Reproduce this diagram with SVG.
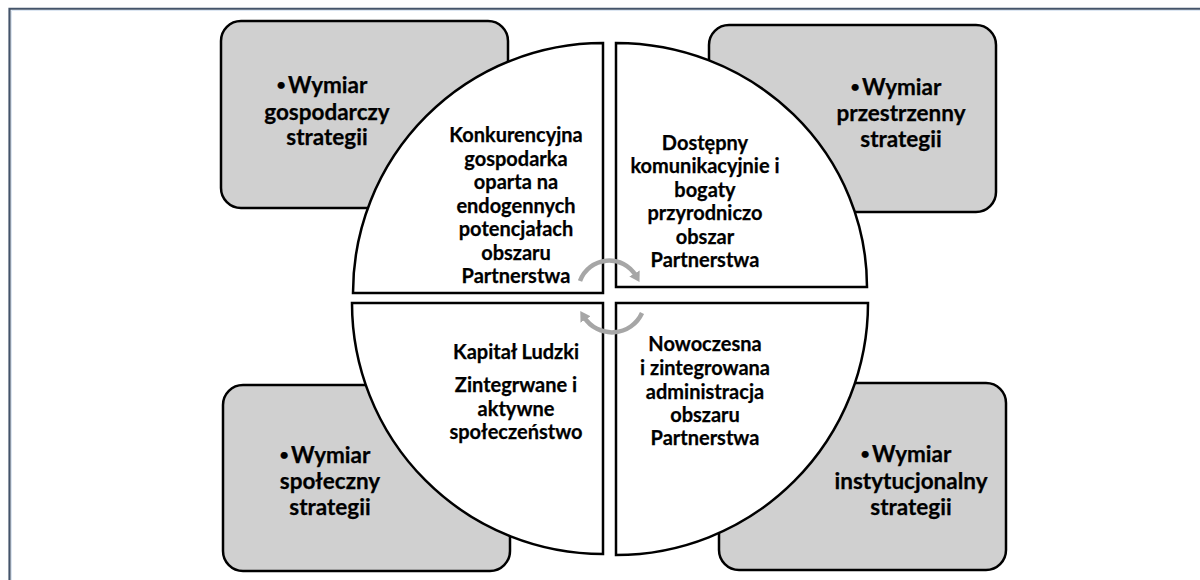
<svg xmlns="http://www.w3.org/2000/svg" width="1200" height="580" viewBox="0 0 1200 580">
<style>
.box{fill:#d0d0d0;stroke:#000;stroke-width:2.5}
.q{fill:#fff;stroke:#000;stroke-width:2.5}
.t{font-family:"Lato","Open Sans",sans-serif;font-weight:bold;fill:#000;text-anchor:middle;stroke:#000;stroke-width:0.25}
.ct{font-size:20px}
.bt{font-size:22.5px}
.bu{font-size:16px}
.arc{fill:none;stroke:#a6a6a6;stroke-width:4.5}
</style>
<defs>
<marker id="ah" markerUnits="userSpaceOnUse" markerWidth="12" markerHeight="12" refX="3" refY="6" orient="auto">
<path d="M0,0 L10,6 L0,12 z" fill="#a6a6a6"/>
</marker>
</defs>
<rect width="1200" height="580" fill="#fff"/>
<path d="M9.5,580 V8.75 H1200" fill="none" stroke="#44546a" stroke-width="2.2"/>
<path d="M11.5,580 V10.5 H1200" fill="none" stroke="#dce6f2" stroke-width="1"/>

<g id="box-gospodarczy">
<rect class="box" x="221" y="21" width="287" height="187" rx="20"/>
<text class="t bt"><tspan x="322" y="93"><tspan class="bu" dy="-3.5">•</tspan><tspan dx="2" dy="3.5">Wymiar</tspan></tspan><tspan x="327" y="119.5">gospodarczy</tspan><tspan x="327" y="145">strategii</tspan></text>
</g>
<g id="box-przestrzenny">
<rect class="box" x="709" y="25" width="287" height="187" rx="20"/>
<text class="t bt"><tspan x="896" y="95"><tspan class="bu" dy="-3.5">•</tspan><tspan dx="2" dy="3.5">Wymiar</tspan></tspan><tspan x="901" y="121">przestrzenny</tspan><tspan x="901" y="147">strategii</tspan></text>
</g>
<g id="box-spoleczny">
<rect class="box" x="223" y="385" width="287" height="186" rx="20"/>
<text class="t bt"><tspan x="325" y="463"><tspan class="bu" dy="-3.5">•</tspan><tspan dx="2" dy="3.5">Wymiar</tspan></tspan><tspan x="330" y="489">społeczny</tspan><tspan x="330" y="515">strategii</tspan></text>
</g>
<g id="box-instytucjonalny">
<rect class="box" x="719" y="383" width="287" height="187" rx="20"/>
<text class="t bt"><tspan x="906" y="462"><tspan class="bu" dy="-3.5">•</tspan><tspan dx="2" dy="3.5">Wymiar</tspan></tspan><tspan x="911" y="489">instytucjonalny</tspan><tspan x="911" y="515">strategii</tspan></text>
</g>

<g id="q-gospodarka">
<path class="q" d="M603,293 L353,293 A250,250 0 0 1 603,43 Z"/>
<text class="t ct"><tspan x="516" y="142">Konkurencyjna</tspan><tspan x="516" y="165.5">gospodarka</tspan><tspan x="516" y="189">oparta na</tspan><tspan x="516" y="212.5">endogennych</tspan><tspan x="516" y="236">potencjałach</tspan><tspan x="516" y="259.5">obszaru</tspan><tspan x="516" y="283">Partnerstwa</tspan></text>
</g>
<g id="q-przestrzen">
<path class="q" d="M616,287 L616,43 A251,244 0 0 1 867,287 Z"/>
<text class="t ct"><tspan x="705" y="149.5">Dostępny</tspan><tspan x="705" y="173">komunikacyjnie i</tspan><tspan x="705" y="196.5">bogaty</tspan><tspan x="705" y="220">przyrodniczo</tspan><tspan x="705" y="243.5">obszar</tspan><tspan x="705" y="267">Partnerstwa</tspan></text>
</g>
<g id="q-kapital">
<path class="q" d="M603,303 L352,303 A251,251 0 0 0 603,554 Z"/>
<text class="t ct"><tspan x="516" y="359">Kapitał Ludzki</tspan><tspan x="516" y="392">Zintegrwane i</tspan><tspan x="516" y="415.5">aktywne</tspan><tspan x="516" y="439">społeczeństwo</tspan></text>
</g>
<g id="q-administracja">
<path class="q" d="M616,303 L868,303 A252,252 0 0 1 616,555 Z"/>
<text class="t ct"><tspan x="705" y="351">Nowoczesna</tspan><tspan x="705" y="375">i zintegrowana</tspan><tspan x="705" y="398.5">administracja</tspan><tspan x="705" y="422">obszaru</tspan><tspan x="705" y="445">Partnerstwa</tspan></text>
</g>

<g id="connectors">
<path class="arc" d="M580,281 A31,31 0 0 1 636,276" marker-end="url(#ah)"/>
<path class="arc" d="M642,313 A33,33 0 0 1 584,317" marker-end="url(#ah)"/>
</g>
</svg>
